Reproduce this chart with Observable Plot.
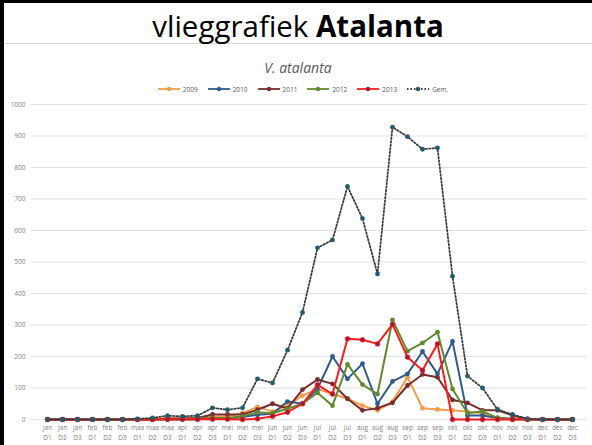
<!DOCTYPE html>
<html>
<head>
<meta charset="utf-8">
<script src="https://cdn.jsdelivr.net/npm/d3@7"></script>
<script src="https://cdn.jsdelivr.net/npm/@observablehq/plot@0.6"></script>
<style>
  html, body { margin: 0; padding: 0; background: #fff; overflow: hidden; }
  #frame { position: relative; width: 592px; height: 445px; box-sizing: border-box;
           border-left: 4px solid #000; border-top: 3px solid #000; background: #fff; overflow: hidden; }
  #header { height: 40px; border-bottom: 1px solid #d9d9d9; text-align: center; overflow: visible;
            font-family: "Open Sans", sans-serif; font-size: 29.5px; line-height: 46px; color: #000; }
  #header b { font-weight: 700; }
  #ctitle { text-align: center; font-family: "Open Sans", sans-serif; font-style: italic;
            font-size: 14px; color: #595959; height: 22px; line-height: 22px; margin-top: 13px; }
  #legend { display: flex; justify-content: center; gap: 10px; height: 20px; align-items: center;
            font-family: "Open Sans", sans-serif; font-size: 6.5px; color: #595959; margin-left: 10px; }
  .item { display: flex; align-items: center; gap: 3px; }
  svg { display: block; }
</style>
</head>
<body>
<div id="frame">
  <div id="header">vlieggrafiek <b>Atalanta</b></div>
  <div id="ctitle">V. atalanta</div>
  <div id="legend"></div>
  <div id="chart"></div>
</div>
<script>
const months = ["jan","feb","maa","apr","mei","jun","jul","aug","sep","okt","nov","dec"];
const decades = ["D1","D2","D3"];
const periods = months.flatMap(m => decades.map(d => m + " " + d));

const seriesNames = ["2009","2010","2011","2012","2013","Gem."];
const v2009 = [0,0,0,0,0,0,0,2,3,3,5,8,10,20,40,25,45,76,97,81,66,44,29,57,134,36,32,29,25,20,5,2,0,0,0,0];
const v2010 = [0,0,0,0,0,0,0,0,0,0,0,5,3,8,15,18,57,50,97,200,129,177,50,121,145,216,145,248,13,13,5,2,0,0,0,0];
const v2011 = [0,0,0,0,0,0,0,0,3,3,5,16,16,16,31,50,35,95,127,113,66,29,36,53,108,143,134,62,53,29,29,13,2,0,0,0];
const v2012 = [0,0,0,0,0,0,0,0,0,0,3,5,5,10,23,20,34,50,85,44,175,111,81,316,217,243,277,97,20,26,5,0,0,0,0,0];
const v2013 = [0,0,0,0,0,0,0,0,1,1,1,1,1,0,2,10,23,50,110,81,256,253,240,302,198,156,240,0,0,0,0,0,0,0,0,0];
const vGem  = [0,0,0,0,0,0,2,5,12,10,12,37,31,37,129,116,220,340,545,570,740,638,462,928,898,858,862,455,138,100,32,16,2,0,0,0];
const yTicks = [0,100,200,300,400,500,600,700,800,900,1000];

const lineColors = ["#f39c4a","#2f5a8c","#7b2c2c","#5f8a30","#ff1a1a","#3d3d3d"];
const dotColors  = ["#f39c4a","#2f5a8c","#7b2c2c","#5f8a30","#a01a3a","#235a70"];
const valuesList = [v2009, v2010, v2011, v2012, v2013, vGem];

const data = seriesNames.flatMap((s, k) => periods.map((p, i) => ({series: s, period: p, value: valuesList[k][i]})));

// legend
const legend = document.getElementById("legend");
seriesNames.forEach((s, k) => {
  const it = document.createElement("div");
  it.className = "item";
  const dash = k === 5 ? ' stroke-dasharray="1.5,2"' : '';
  it.innerHTML = `<svg width="22" height="6"><line x1="0" y1="3" x2="22" y2="3" stroke="${lineColors[k]}" stroke-width="1.8"${dash}/><circle cx="11" cy="3" r="2.2" fill="${dotColors[k]}"/></svg><span>${s}</span>`;
  legend.appendChild(it);
});

const marks = [
  Plot.ruleY(yTicks, {stroke: "#d9d9d9", strokeWidth: 0.8}),
  Plot.axisY({ticks: yTicks, tickSize: 0, tickPadding: 6, tickFormat: d => String(d), label: null, fontSize: 6.5}),
  Plot.axisX({tickSize: 0, tickPadding: 4, tickFormat: d => d.replace(" ", "\n"), lineHeight: 1.5, label: null, fontSize: 6.5})
];
seriesNames.forEach((s, k) => {
  const d = data.filter(r => r.series === s);
  marks.push(Plot.line(d, {x: "period", y: "value", stroke: lineColors[k], strokeWidth: k === 5 ? 1.8 : 2,
    strokeDasharray: k === 5 ? "1.5,2" : null}));
  marks.push(Plot.dot(d, {x: "period", y: "value", r: 2.4, fill: dotColors[k],
    stroke: k === 4 ? "#ff1a1a" : null, strokeWidth: 0.6}));
});

const chart = Plot.plot({
  width: 588,
  height: 346,
  marginTop: 5,
  marginBottom: 26,
  marginLeft: 27,
  marginRight: 5,
  style: {fontFamily: "Open Sans, sans-serif", fontSize: "6.5px", color: "#7f7f7f", background: "transparent"},
  x: {type: "point", domain: periods, padding: 0.5},
  y: {domain: [0, 1000]},
  marks
});
document.getElementById("chart").appendChild(chart);
</script>
</body>
</html>
